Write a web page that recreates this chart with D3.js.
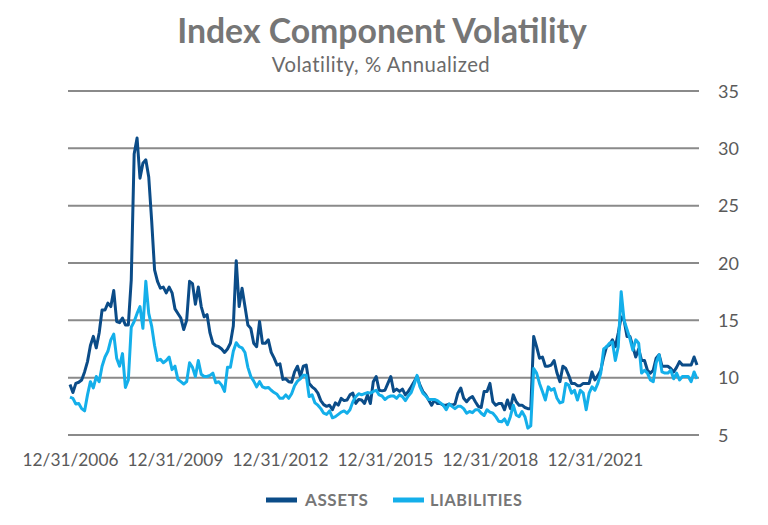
<!DOCTYPE html>
<html><head><meta charset="utf-8">
<script src="https://cdn.jsdelivr.net/npm/d3@7"></script>
<style>html,body{margin:0;padding:0;background:#fff;}svg{display:block;font-family:Lato,"Open Sans",sans-serif;}</style>
</head><body>
<svg id="chart" width="768" height="525"></svg>
<script>
const title = "Index Component Volatility";
const subtitle = "Volatility, % Annualized";
const seriesNames = ["ASSETS", "LIABILITIES"];
const tickIndex = [0, 36, 72, 108, 144, 180];
const tickLabels = ["12/31/2006", "12/31/2009", "12/31/2012", "12/31/2015", "12/31/2018", "12/31/2021"];
const yTicks = [5, 10, 15, 20, 25, 30, 35];

// monthly values starting 12/31/2006
const assets = [
 9.4, 8.7, 9.5, 9.6, 9.8, 10.5, 11.4, 12.8, 13.6, 12.6,
 13.9, 15.9, 15.9, 16.5, 16.2, 17.6, 14.9, 14.8, 15.2, 14.6,
 14.6, 18.5, 29.5, 30.9, 27.4, 28.7, 29.0, 27.5, 23.7, 19.4,
 18.4, 17.8, 17.9, 17.4, 17.9, 17.4, 16.0, 15.6, 15.2, 14.2,
 15.0, 18.4, 18.2, 16.4, 17.9, 16.2, 15.3, 15.5, 13.9, 13.0,
 12.8, 12.7, 12.5, 12.2, 12.5, 13.0, 14.5, 20.2, 16.2, 17.8,
 16.2, 14.6, 14.3, 13.0, 12.7, 14.9, 13.0, 13.0, 13.3, 12.2,
 11.7, 11.1, 11.2, 9.85, 9.9, 9.65, 9.6, 10.5, 11.0, 10.1,
 11.0, 11.1, 9.5, 9.2, 9.0, 8.65, 8.0, 7.65, 7.5, 7.6,
 7.2, 7.8, 7.6, 8.2, 8.0, 8.05, 8.5, 8.65, 7.75, 8.1,
 8.05, 7.75, 8.5, 7.75, 9.65, 10.1, 8.9, 8.85, 8.9, 9.5,
 10.1, 8.8, 9.0, 8.8, 9.0, 8.5, 8.8, 9.2, 9.65, 10.1,
 9.35, 8.8, 8.5, 8.05, 7.6, 8.05, 7.75, 7.75, 7.6, 7.6,
 7.7, 7.6, 7.7, 8.65, 9.1, 8.2, 7.9, 8.2, 8.35, 7.9,
 7.5, 7.4, 8.8, 8.8, 9.5, 7.9, 7.6, 7.75, 7.75, 7.2,
 8.05, 7.3, 8.5, 7.9, 7.6, 7.6, 7.4, 7.3, 7.3, 13.6,
 12.7, 11.7, 11.8, 11.0, 11.0, 11.1, 11.5, 10.4, 9.65, 11.0,
 10.8, 10.2, 9.5, 9.5, 9.3, 9.3, 9.5, 9.5, 9.5, 10.5,
 9.8, 10.2, 10.65, 11.8, 12.7, 12.85, 13.3, 12.7, 13.9, 15.3,
 15.0, 13.6, 13.6, 12.7, 11.8, 12.5, 11.5, 11.5, 10.65, 10.4,
 10.65, 11.7, 12.0, 11.0, 11.0, 11.0, 10.8, 10.5, 10.9, 11.4,
 11.1, 11.1, 11.1, 11.1, 11.8, 11.1
];
const liabilities = [
 8.3, 8.2, 7.7, 7.75, 7.3, 7.1, 8.5, 9.65, 9.1, 10.1,
 9.65, 11.0, 11.8, 12.3, 13.3, 13.8, 11.7, 11.0, 12.1, 9.15,
 9.8, 14.4, 14.9, 15.6, 16.2, 14.3, 18.4, 15.6, 14.5, 12.8,
 11.5, 11.6, 11.3, 11.5, 11.8, 10.7, 11.0, 9.85, 9.65, 9.45,
 9.65, 11.3, 10.9, 10.1, 11.5, 10.3, 10.1, 10.1, 10.2, 10.4,
 9.55, 9.65, 9.35, 8.8, 10.9, 10.9, 12.3, 13.05, 12.7, 12.6,
 12.2, 10.9, 10.1, 9.7, 9.2, 9.65, 9.2, 9.1, 9.15, 8.9,
 8.7, 8.55, 8.2, 8.2, 8.5, 8.2, 8.6, 9.3, 9.7, 9.9,
 10.2, 10.2, 8.35, 8.5, 7.8, 7.6, 7.3, 6.9, 6.8, 7.1,
 6.5, 6.6, 6.8, 7.0, 7.1, 6.9, 7.2, 7.9, 8.35, 8.6,
 8.5, 8.6, 8.7, 8.65, 8.8, 8.9, 8.5, 8.4, 8.1, 8.3,
 8.4, 8.4, 8.2, 8.5, 8.35, 8.0, 8.4, 8.7, 9.4, 10.2,
 9.2, 8.65, 8.4, 8.1, 8.1, 8.1, 8.0, 7.8, 7.6, 7.2,
 7.7, 7.5, 7.3, 7.5, 7.5, 7.3, 6.9, 7.05, 6.95, 7.2,
 7.2, 6.9, 6.7, 7.2, 7.0, 6.9, 6.6, 6.2, 6.15, 6.4,
 5.9, 6.6, 7.6, 6.75, 6.6, 7.05, 6.6, 5.6, 5.8, 10.8,
 10.4, 9.5, 8.8, 8.05, 9.2, 8.9, 9.05, 8.2, 7.8, 7.9,
 9.5, 9.35, 8.65, 8.9, 8.05, 8.9, 8.65, 7.2, 8.65, 9.2,
 8.9, 9.5, 10.4, 12.5, 12.7, 13.0, 13.1, 11.5, 12.7, 17.5,
 15.0, 14.2, 13.4, 12.4, 13.3, 13.0, 10.4, 10.65, 10.4, 9.8,
 9.65, 11.3, 12.0, 10.5, 10.4, 10.4, 10.65, 9.9, 10.4, 9.8,
 10.1, 10.1, 10.1, 9.65, 10.5, 9.9
];
const colors = ["#0b4c88", "#14afea"];

const svg = d3.select("#chart");
const x = d3.scaleLinear().domain([0, assets.length - 1]).range([70, 697]);
const y = d3.scaleLinear().domain([5, 35]).range([435, 91]);

function fit(sel, w) {
  const n = sel.node();
  const l = n.getComputedTextLength();
  const fs = parseFloat(sel.attr("font-size"));
  sel.attr("font-size", fs * w / l);
}

// title
fit(svg.append("text").attr("x", 382).attr("y", 43).attr("text-anchor", "middle")
  .attr("font-size", 30).attr("font-weight", "bold").attr("fill", "#767676").text(title), 410);
fit(svg.append("text").attr("x", 381).attr("y", 72).attr("text-anchor", "middle")
  .attr("font-size", 17).attr("fill", "#6a6a6a").attr("letter-spacing", 0.5).text(subtitle), 221);

// gridlines
svg.append("g").selectAll("line").data(yTicks).join("line")
  .attr("x1", 68).attr("x2", 699)
  .attr("y1", d => y(d)).attr("y2", d => y(d))
  .attr("stroke", "#8a8a8a").attr("stroke-width", 2);

// right axis
const yAxis = svg.append("g").attr("transform", "translate(718,0)")
  .call(d3.axisRight(y).tickValues(yTicks).tickSize(0).tickPadding(0));
yAxis.select(".domain").remove();
yAxis.selectAll("text").attr("font-size", 18).attr("fill", "#5a5a5a")
  .attr("font-family", "Lato, sans-serif").attr("dy", "0.34em");

// bottom axis
const xAxis = svg.append("g").attr("transform", "translate(0,450)")
  .call(d3.axisBottom(x).tickValues(tickIndex).tickFormat((d, i) => tickLabels[i]).tickSize(0).tickPadding(0));
xAxis.select(".domain").remove();
xAxis.selectAll("text").attr("font-size", 18).attr("fill", "#5a5a5a")
  .attr("font-family", "Lato, sans-serif").attr("dy", "0.9em")
  .each(function() { fit(d3.select(this), 96); });

// lines
const line = d3.line().x((d, i) => x(i)).y(d => y(d));
[assets, liabilities].forEach((s, k) => {
  svg.append("path").datum(s).attr("d", line).attr("fill", "none")
    .attr("stroke", colors[k]).attr("stroke-width", 3).attr("stroke-linejoin", "round");
});
// redraw assets? keep order: liabilities on top as in reference

// legend
const leg = [{x: 266, tx: 305, w: 64}, {x: 393, tx: 430, w: 93}];
seriesNames.forEach((n, k) => {
  svg.append("line").attr("x1", leg[k].x).attr("x2", leg[k].x + 31)
    .attr("y1", 500).attr("y2", 500).attr("stroke", colors[k]).attr("stroke-width", 5);
  fit(svg.append("text").attr("x", leg[k].tx).attr("y", 506).attr("font-size", 15)
    .attr("font-weight", "bold").attr("fill", "#767676").attr("letter-spacing", 0.6).text(n), leg[k].w);
});
</script>
</body></html>
